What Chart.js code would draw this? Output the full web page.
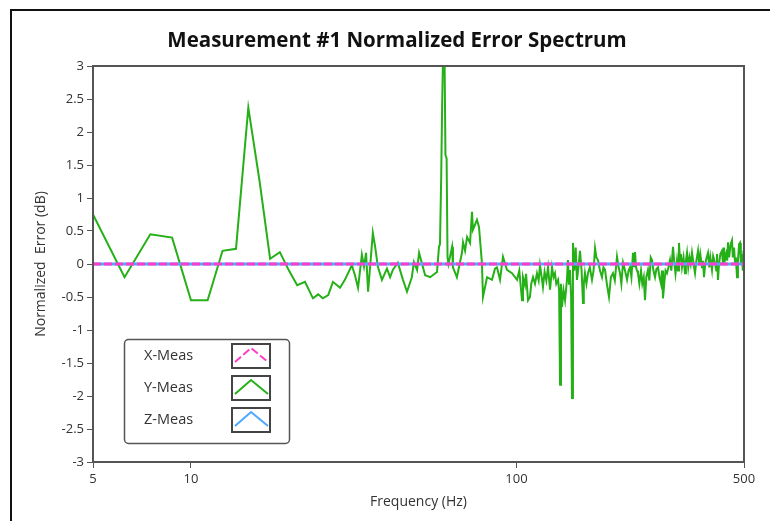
<!DOCTYPE html>
<html>
<head>
<meta charset="utf-8">
<script src="https://cdn.jsdelivr.net/npm/chart.js@4.4.1/dist/chart.umd.min.js"></script>
<style>
  html, body { margin: 0; padding: 0; background: #fff; }
  #wrap { position: relative; width: 770px; height: 521px; overflow: hidden; }
  #frame { position: absolute; left: 10px; top: 9px; right: -5px; bottom: -5px;
           border-left: 2px solid #111; border-top: 2px solid #111; pointer-events: none; }
</style>
</head>
<body>
<div id="wrap">
  <canvas id="spectrumChart" width="770" height="521"></canvas>
  <div id="frame"></div>
</div>
<script>
// Nazwy serii i osie
const chartTitle = 'Measurement #1 Normalized Error Spectrum';
const seriesNames = ['X-Meas', 'Y-Meas', 'Z-Meas'];
const xTickValues = [5, 10, 100, 500];
const yMin = -3, yMax = 3, yStep = 0.5;

// X-Meas i Z-Meas leżą na zerze w całym zakresie
const flatFreq = [5, 500];
const xMeas = [0, 0];
const zMeas = [0, 0];

// Y-Meas: częstotliwość (Hz) i błąd znormalizowany (dB)
const yFreq = [
  5, 6.25, 7.5, 8.75, 10, 11.25, 12.5, 13.75, 15, 16.25, 17.5, 18.75, 20,
  21.2, 22.4, 23.7, 24.6, 25.4, 26.4, 27.3, 28.7, 29.7, 31.2, 31.9, 32.6, 33.5,
  34.0, 34.5, 35.0, 36.2, 36.8, 37.5, 38.6, 40.0, 40.9, 41.7, 43.2, 44.8, 46.1,
  47.7, 48.4, 49.5, 50.2, 52.4, 54.3, 57.0, 57.8,
  58.2, 58.7, 59.1, 59.5, 60.1, 60.5, 61.0, 61.4, 61.8,
  63.4, 63.8, 65.6, 68.0, 68.5, 69.5, 70.5, 72.0, 73.0, 73.5, 75.6, 76.7, 78.3,
  78.9, 81.2, 84.1, 85.9, 87.1, 89.0, 90.9, 93.5, 96.9,
  100.4, 102, 104.0, 104.7, 106.2, 107, 108.5, 110.0, 111, 112.4, 114, 115.6,
  117, 118.1, 119.5, 120.6, 122, 123.5, 125.0, 126.8, 128.6, 130, 131.3, 132.5,
  134.2, 135.2, 136.1, 137, 138.0, 139.5, 141.0, 142.9, 143.9, 145, 146.0, 147.2,
  148.1, 149.1, 150.5, 152, 153.4, 155, 156.7, 158.5, 160.1, 161, 162.3, 164,
  165.8, 168, 170.6, 172.5, 174.3, 176, 178.0, 180.5, 183.1, 185, 187.1, 189.5,
  192.4, 195, 197.9, 200.5, 203.6, 206, 208.0, 210, 212.5, 215.5, 218.6, 221,
  223.3, 225.5, 228.0, 229.5, 231.3, 233, 234.6, 236.2, 238.5, 241.3, 243.5, 246,
  248.2, 250.5, 253.5, 256, 258.5, 260.8, 263.5, 266.4, 269, 272.1, 275, 278.0,
  280, 281.9, 285, 287, 289.9, 293, 296.2, 299, 302.6, 305, 308, 311.3, 313.5,
  315.7, 318, 320, 322.5, 326, 329.4, 331.5, 334.1, 337, 340, 343, 346.1, 350,
  353.6, 357, 361.2, 364, 367, 371.5, 374, 376.8, 380, 384, 387.6, 391, 394,
  398.7, 402, 407.3, 411, 413, 416.0, 419, 423, 427.9, 431, 434, 437.1, 441, 444,
  446.5, 450, 455, 459.3, 462, 466, 469.2, 472, 475.9, 479, 483, 486.1, 489, 491,
  493.0, 496, 498, 500
];
const yMeas = [
  0.75, -0.2, 0.45, 0.4, -0.55, -0.55, 0.2, 0.23, 2.37, 1.25, 0.08, 0.18, -0.1,
  -0.32, -0.27, -0.52, -0.46, -0.52, -0.47, -0.27, -0.36, -0.24, -0.02, -0.17, -0.36, 0.14,
  -0.04, 0.17, -0.42, 0.47, 0.26, -0.04, -0.24, -0.07, -0.2, -0.09, 0.02, -0.24, -0.42,
  -0.2, 0.03, -0.09, 0.17, -0.17, -0.2, -0.12, 0.26,
  0.3, 1.3, 2.4, 3.2, 3.2, 1.65, 1.6, 0.1, 0.0,
  0.26, -0.05, -0.2, 0.17, 0.33, 0.2, 0.41, 0.32, 0.79, 0.52, 0.67, 0.56, 0.02,
  -0.5, -0.2, -0.24, -0.07, -0.05, -0.24, 0.11, -0.09, -0.14,
  -0.24, -0.1, -0.55, -0.2, -0.32, -0.15, -0.55, -0.5, -0.3, -0.2, -0.3, -0.14,
  -0.25, -0.02, -0.2, -0.35, -0.12, -0.25, -0.05, -0.39, -0.05, -0.2, -0.14, -0.3,
  -0.24, -0.4, -1.83, -0.3, -0.65, -0.4, -0.55, -0.24, 0.06, -0.3, -0.09, -0.5,
  -2.03, 0.32, -0.1, 0.25, -0.24, -0.05, 0.2, -0.1, -0.59, -0.3, -0.14, -0.3,
  -0.14, -0.05, -0.24, -0.1, 0.24, 0.1, 0.06, -0.1, -0.2, -0.05, -0.09, -0.3,
  -0.5, -0.2, -0.14, -0.25, 0.11, -0.05, -0.14, -0.3, 0.02, -0.1, -0.24, -0.1,
  -0.05, -0.2, 0.17, -0.05, 0.18, -0.05, -0.1, -0.14, -0.3, -0.1, -0.3, -0.2,
  -0.55, -0.2, -0.09, -0.25, 0.1, 0.06, -0.1, -0.2, -0.08, -0.05, -0.2, -0.3,
  -0.1, -0.52, -0.25, -0.1, -0.14, -0.05, 0.06, -0.1, 0.26, 0.05, -0.15, 0.06, -0.1,
  0.32, 0.05, 0.15, -0.05, 0.1, -0.14, 0.05, 0.17, -0.05, 0.1, 0.0, 0.17, 0.0,
  -0.14, 0.05, 0.2, 0.0, 0.15, -0.05, 0.05, -0.2, 0.0, 0.1, 0.17, -0.05, 0.1,
  -0.09, 0.12, 0.02, -0.1, 0.15, -0.24, 0.0, 0.15, 0.2, 0.0, 0.25, 0.06, 0.15, 0.05,
  0.33, 0.1, 0.3, 0.36, 0.1, 0.25, 0.03, 0.1, -0.2, 0.05, 0.3, 0.32, 0.0, 0.15,
  0.06, -0.1, 0.2, 0.03
];

const toPoints = (xs, ys) => xs.map((f, i) => ({ x: f, y: ys[i] }));

// Tytuł (wyśrodkowany względem całego panelu, nie obszaru wykresu)
const panelTitle = {
  id: 'panelTitle',
  afterDraw(chart) {
    const ctx = chart.ctx;
    ctx.save();
    ctx.font = 'bold 20.5px "Open Sans", sans-serif';
    ctx.fillStyle = '#111';
    ctx.textAlign = 'center';
    ctx.textBaseline = 'middle';
    ctx.fillText(chartTitle, 397, 41);
    ctx.restore();
  }
};

// Ramka obszaru wykresu
const plotFrame = {
  id: 'plotFrame',
  afterDatasetsDraw(chart) {
    const { ctx, chartArea: a } = chart;
    ctx.save();
    ctx.strokeStyle = '#555';
    ctx.lineWidth = 2;
    ctx.strokeRect(a.left, a.top, a.right - a.left, a.bottom - a.top);
    ctx.restore();
  }
};

// Legenda w stylu LabVIEW (ramka z próbkami linii)
const legendBox = {
  id: 'legendBox',
  afterDraw(chart) {
    const ctx = chart.ctx;
    ctx.save();
    ctx.beginPath();
    ctx.roundRect(124.5, 339.5, 165, 104, 4);
    ctx.fillStyle = '#fff';
    ctx.fill();
    ctx.lineWidth = 1.5;
    ctx.strokeStyle = '#555';
    ctx.stroke();
    chart.data.datasets.forEach((ds, i) => {
      const top = 344 + i * 32;
      ctx.font = '14.5px "Open Sans", sans-serif';
      ctx.fillStyle = '#333';
      ctx.textAlign = 'left';
      ctx.textBaseline = 'middle';
      ctx.fillText(ds.label, 144, top + 12);
      ctx.setLineDash([]);
      ctx.lineWidth = 2;
      ctx.strokeStyle = '#444';
      ctx.strokeRect(232, top, 38, 24);
      ctx.beginPath();
      ctx.moveTo(235, top + 18);
      ctx.lineTo(251, top + 4);
      ctx.lineTo(268, top + 18);
      ctx.strokeStyle = ds.borderColor;
      ctx.setLineDash(ds.borderDash || []);
      ctx.stroke();
    });
    ctx.restore();
  }
};

const ctxSpectrum = document.getElementById('spectrumChart').getContext('2d');

const spectrumChart = new Chart(ctxSpectrum, {
  type: 'line',
  data: {
    datasets: [{
      label: seriesNames[0],
      data: toPoints(flatFreq, xMeas),
      borderColor: '#ff3cc8',
      borderWidth: 3,
      borderDash: [8, 3],
      order: 0
    }, {
      label: seriesNames[1],
      data: toPoints(yFreq, yMeas),
      borderColor: '#26b018',
      borderWidth: 2,
      order: 2
    }, {
      label: seriesNames[2],
      data: toPoints(flatFreq, zMeas),
      borderColor: '#4aa8ff',
      borderWidth: 3,
      order: 1
    }]
  },
  options: {
    responsive: false,
    animation: false,
    devicePixelRatio: 1,
    elements: {
      point: { radius: 0 },
      line: { tension: 0 }
    },
    layout: { padding: { left: 0, top: 66, right: 26, bottom: 0 } },
    plugins: {
      legend: { display: false },
      tooltip: { enabled: false },
      title: { display: false }
    },
    scales: {
      x: {
        type: 'logarithmic',
        min: 5,
        max: 500,
        afterBuildTicks: s => { s.ticks = xTickValues.map(v => ({ value: v })); },
        afterFit: s => { s.height = 59; },
        grid: { drawOnChartArea: false, drawTicks: true, tickLength: 6, color: '#555' },
        border: { display: false },
        ticks: {
          autoSkip: false,
          maxRotation: 0,
          padding: 3,
          color: '#333',
          font: { family: '"Open Sans"', size: 13 },
          callback: v => String(v)
        },
        title: {
          display: true,
          text: 'Frequency (Hz)',
          color: '#333',
          font: { family: '"Open Sans"', size: 14 },
          padding: { top: 0, bottom: 11 }
        }
      },
      y: {
        min: yMin,
        max: yMax,
        afterFit: s => { s.width = 93; },
        grid: { drawOnChartArea: false, drawTicks: true, tickLength: 6, color: '#555' },
        border: { display: false },
        ticks: {
          stepSize: yStep,
          padding: 3,
          color: '#333',
          font: { family: '"Open Sans"', size: 13 },
          callback: v => String(v)
        },
        title: {
          display: true,
          text: 'Normalized  Error (dB)',
          color: '#333',
          font: { family: '"Open Sans"', size: 14 },
          padding: { top: 33, bottom: 0 }
        }
      }
    }
  },
  plugins: [panelTitle, plotFrame, legendBox]
});
</script>
</body>
</html>
